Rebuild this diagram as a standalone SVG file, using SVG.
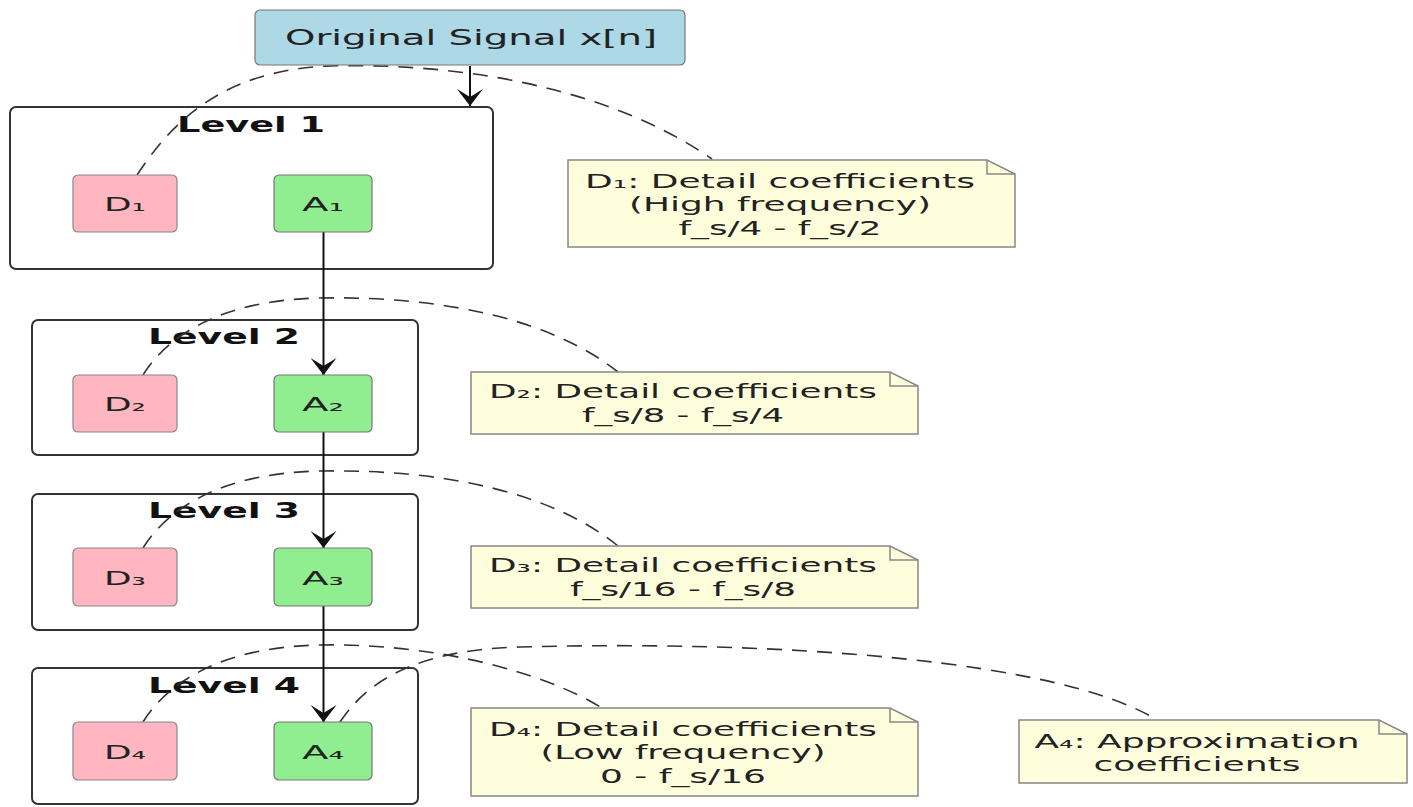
<svg xmlns="http://www.w3.org/2000/svg" width="1413" height="807" viewBox="0 0 1413 807">
<defs>
<style>
text{font-family:"DejaVu Sans","Liberation Sans",sans-serif;fill:#222;text-anchor:middle;font-size:19.5px}
.title{font-size:21px}
.lvl{font-size:21px;font-weight:bold;fill:#111}
.node{font-size:20px}
.cluster{fill:#fff;stroke:#333;stroke-width:2}
.dnode{fill:#FFB6C1;stroke:#888;stroke-width:1.2}
.anode{fill:#90EE90;stroke:#777;stroke-width:1.2}
.note{fill:#FEFEDC;stroke:#888;stroke-width:1.5}
.fold{fill:none;stroke:#888;stroke-width:1.5}
.dash{fill:none;stroke:#333;stroke-width:1.6;stroke-dasharray:15 10}
.flow{fill:none;stroke:#111;stroke-width:2}
</style>
<marker id="ah" viewBox="-18 -15 20 30" refX="0" refY="0" markerWidth="20" markerHeight="30" markerUnits="userSpaceOnUse" orient="auto">
<path d="M0,0 L-17,-13 L-9,0 L-17,13 Z" fill="#111"/>
</marker>
</defs>
<rect width="1413" height="807" fill="#fff"/>

<g id="cluster-level1">
<rect class="cluster" x="10" y="107" width="483" height="162" rx="6"/>
<text class="lvl" x="251" y="132" textLength="148" lengthAdjust="spacingAndGlyphs">Level 1</text>
</g>
<g id="cluster-level2">
<rect class="cluster" x="32" y="320" width="386" height="135" rx="6"/>
<text class="lvl" x="224" y="344" textLength="152" lengthAdjust="spacingAndGlyphs">Level 2</text>
</g>
<g id="cluster-level3">
<rect class="cluster" x="32" y="494" width="386" height="136" rx="6"/>
<text class="lvl" x="224" y="518" textLength="152" lengthAdjust="spacingAndGlyphs">Level 3</text>
</g>
<g id="cluster-level4">
<rect class="cluster" x="32" y="668" width="386" height="136" rx="6"/>
<text class="lvl" x="224" y="693" textLength="152" lengthAdjust="spacingAndGlyphs">Level 4</text>
</g>

<g id="connectors">
<path class="dash" d="M137,175 C170,125 220,70 330,66 C480,62 620,95 712,159"/>
<path class="dash" d="M143,375 C165,340 215,300 320,298 C440,296 550,318 618,372"/>
<path class="dash" d="M143,548 C165,513 215,473 320,471 C440,469 550,491 618,546"/>
<path class="dash" d="M143,722 C165,687 215,647 320,645 C430,643 540,670 602,708"/>
<path class="dash" d="M340,722 C365,685 410,650 520,647 C780,640 1060,660 1157,720"/>
<line class="flow" x1="470" y1="66" x2="470" y2="106" marker-end="url(#ah)"/>
<line class="flow" x1="323.5" y1="232" x2="323.5" y2="375" marker-end="url(#ah)"/>
<line class="flow" x1="323.5" y1="432" x2="323.5" y2="548" marker-end="url(#ah)"/>
<line class="flow" x1="323.5" y1="606" x2="323.5" y2="722" marker-end="url(#ah)"/>
</g>

<g id="node-original">
<rect x="255" y="10" width="430" height="55" rx="5" fill="#ADD8E6" stroke="#777" stroke-width="1.2"/>
<text class="title" x="471" y="45" textLength="372" lengthAdjust="spacingAndGlyphs">Original Signal x[n]</text>
</g>

<g id="node-D1"><rect class="dnode" x="73" y="175" width="104" height="57" rx="5"/><text class="node" x="125" y="211" textLength="42" lengthAdjust="spacingAndGlyphs">D₁</text></g>
<g id="node-A1"><rect class="anode" x="274" y="175" width="98" height="57" rx="5"/><text class="node" x="323" y="211" textLength="42" lengthAdjust="spacingAndGlyphs">A₁</text></g>
<g id="node-D2"><rect class="dnode" x="73" y="375" width="104" height="57" rx="5"/><text class="node" x="125" y="411" textLength="42" lengthAdjust="spacingAndGlyphs">D₂</text></g>
<g id="node-A2"><rect class="anode" x="274" y="375" width="98" height="57" rx="5"/><text class="node" x="323" y="411" textLength="42" lengthAdjust="spacingAndGlyphs">A₂</text></g>
<g id="node-D3"><rect class="dnode" x="73" y="548" width="104" height="58" rx="5"/><text class="node" x="125" y="585" textLength="42" lengthAdjust="spacingAndGlyphs">D₃</text></g>
<g id="node-A3"><rect class="anode" x="274" y="548" width="98" height="58" rx="5"/><text class="node" x="323" y="585" textLength="42" lengthAdjust="spacingAndGlyphs">A₃</text></g>
<g id="node-D4"><rect class="dnode" x="73" y="722" width="104" height="58" rx="5"/><text class="node" x="125" y="759" textLength="42" lengthAdjust="spacingAndGlyphs">D₄</text></g>
<g id="node-A4"><rect class="anode" x="274" y="722" width="98" height="58" rx="5"/><text class="node" x="323" y="759" textLength="42" lengthAdjust="spacingAndGlyphs">A₄</text></g>

<g id="note-D1">
<path class="note" d="M568,160 H987 L1015,174 V247 H568 Z"/>
<path class="fold" d="M987,160 V174 H1015"/>
<text x="780" y="188" textLength="390" lengthAdjust="spacingAndGlyphs">D₁: Detail coefficients</text>
<text x="780" y="211" textLength="302" lengthAdjust="spacingAndGlyphs">(High frequency)</text>
<text x="780" y="235" textLength="203" lengthAdjust="spacingAndGlyphs">f_s/4 - f_s/2</text>
</g>
<g id="note-D2">
<path class="note" d="M471,372 H890 L918,386 V434 H471 Z"/>
<path class="fold" d="M890,372 V386 H918"/>
<text x="683" y="398" textLength="388" lengthAdjust="spacingAndGlyphs">D₂: Detail coefficients</text>
<text x="683" y="422" textLength="202" lengthAdjust="spacingAndGlyphs">f_s/8 - f_s/4</text>
</g>
<g id="note-D3">
<path class="note" d="M471,546 H890 L918,560 V608 H471 Z"/>
<path class="fold" d="M890,546 V560 H918"/>
<text x="683" y="572" textLength="388" lengthAdjust="spacingAndGlyphs">D₃: Detail coefficients</text>
<text x="683" y="596" textLength="226" lengthAdjust="spacingAndGlyphs">f_s/16 - f_s/8</text>
</g>
<g id="note-D4">
<path class="note" d="M471,708 H890 L918,722 V796 H471 Z"/>
<path class="fold" d="M890,708 V722 H918"/>
<text x="683" y="736" textLength="388" lengthAdjust="spacingAndGlyphs">D₄: Detail coefficients</text>
<text x="683" y="759" textLength="285" lengthAdjust="spacingAndGlyphs">(Low frequency)</text>
<text x="683" y="783" textLength="166" lengthAdjust="spacingAndGlyphs">0 - f_s/16</text>
</g>
<g id="note-A4">
<path class="note" d="M1019,720 H1379 L1407,734 V783 H1019 Z"/>
<path class="fold" d="M1379,720 V734 H1407"/>
<text x="1197" y="748" textLength="325" lengthAdjust="spacingAndGlyphs">A₄: Approximation</text>
<text x="1197" y="771" textLength="207" lengthAdjust="spacingAndGlyphs">coefficients</text>
</g>
</svg>
